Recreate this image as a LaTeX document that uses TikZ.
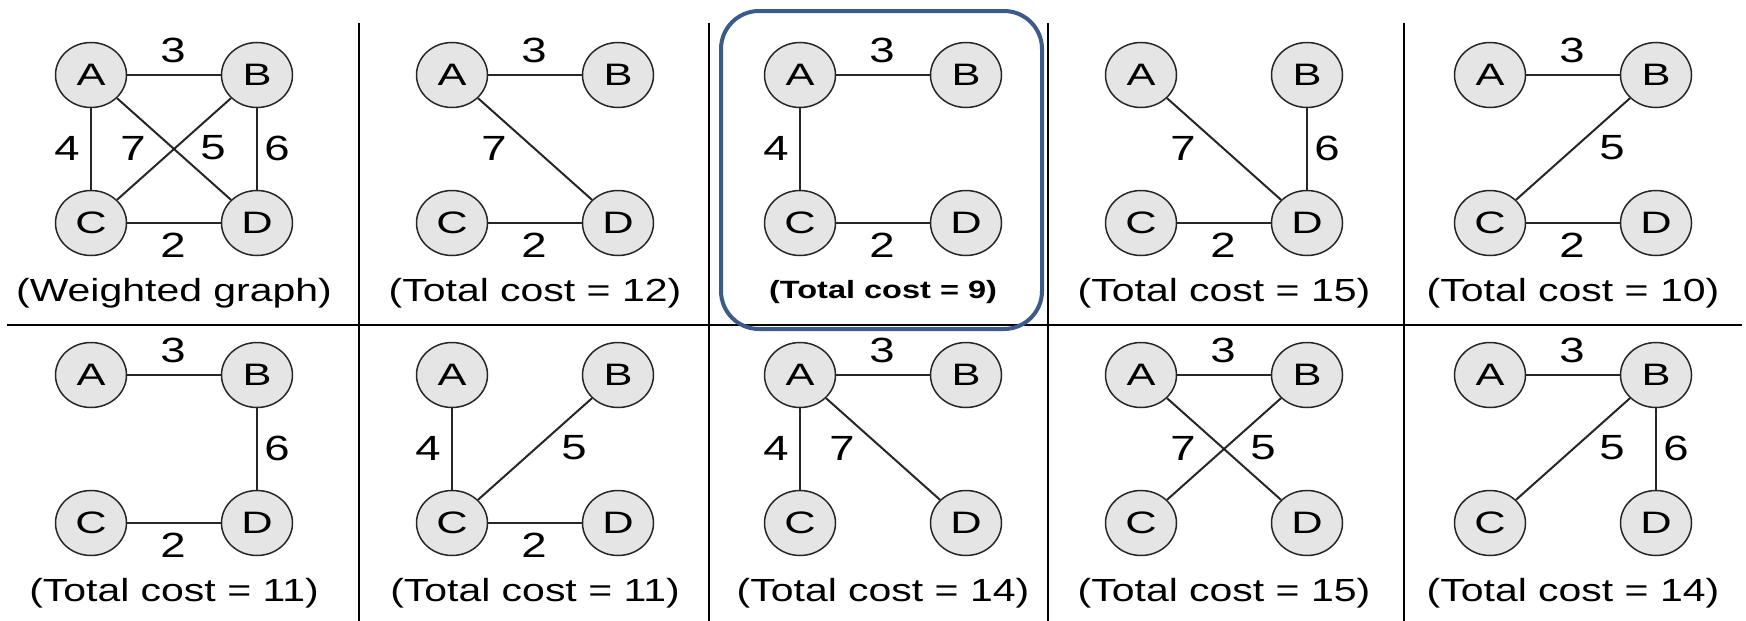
\documentclass[tikz,border=0pt]{standalone}
\usepackage{fontspec}
\setmainfont{Liberation Sans}
\usetikzlibrary{shapes.geometric}
\newcommand{\hs}[2]{\scalebox{#1}[1]{#2}}
\newcommand{\panel}[3]{%
  \node[vtx] (#1A) at (#2,#3) {\hs{1.4}{A}};
  \node[vtx] (#1B) at (#2+166,#3) {\hs{1.4}{B}};
  \node[vtx] (#1C) at (#2,#3+148) {\hs{1.4}{C}};
  \node[vtx] (#1D) at (#2+166,#3+148) {\hs{1.4}{D}};
}
\newcommand{\wl}[4]{\node[wt] (#1w#4) at ([shift={(#2,#3)}]#1A.center) {\hs{1.3}{#4}};}
\newcommand{\capt}[2]{\node[capt] (#1cap) at ([shift={(83,218)}]#1A.center) {\hs{1.28}{#2}};}
\newcommand{\wAB}[1]{\draw[edge] (#1A) -- (#1B); \wl{#1}{82}{-25}{3}}
\newcommand{\wAC}[1]{\draw[edge] (#1A) -- (#1C); \wl{#1}{-24}{73}{4}}
\newcommand{\wAD}[1]{\draw[edge] (#1A) -- (#1D); \wl{#1}{42}{73}{7}}
\newcommand{\wBC}[1]{\draw[edge] (#1B) -- (#1C); \wl{#1}{122}{73}{5}}
\newcommand{\wBD}[1]{\draw[edge] (#1B) -- (#1D); \wl{#1}{186}{73}{6}}
\newcommand{\wCD}[1]{\draw[edge] (#1C) -- (#1D); \wl{#1}{82}{170}{2}}
\definecolor{hlblue}{RGB}{59,91,138}
\begin{document}
\begin{tikzpicture}[x=1pt,y=-1pt,
  vtx/.style={ellipse,draw=black!85,line width=1.5pt,fill=gray!20,minimum width=71pt,minimum height=65pt,inner sep=0pt,font=\fontsize{31}{31}\selectfont},
  wt/.style={inner sep=0pt,font=\fontsize{35}{35}\selectfont},
  capt/.style={inner sep=0pt,font=\fontsize{32}{32}\selectfont},
  bcapt/.style={inner sep=0pt,font=\fontsize{25}{25}\selectfont\bfseries},
  edge/.style={draw=black!85,line width=2pt},
  divider/.style={draw=black,line width=2pt},
  highlight/.style={draw=hlblue,line width=4pt,rounded corners=38pt}]
\useasboundingbox (0,0) rectangle (1746,621);
% dividers
\coordinate (h1) at (7,325);
\coordinate (h2) at (1742,325);
\draw[divider] (h1) -- (h2);
\coordinate (v1t) at (359,23); \coordinate (v1b) at (359,621);
\coordinate (v2t) at (709,23); \coordinate (v2b) at (709,621);
\coordinate (v3t) at (1048,23); \coordinate (v3b) at (1048,621);
\coordinate (v4t) at (1404,23); \coordinate (v4b) at (1404,621);
\draw[divider] (v1t) -- (v1b);
\draw[divider] (v2t) -- (v2b);
\draw[divider] (v3t) -- (v3b);
\draw[divider] (v4t) -- (v4b);
% panels row 1
\panel{p1}{91}{75}
\wAB{p1}\wAC{p1}\wAD{p1}\wBC{p1}\wBD{p1}\wCD{p1}
\capt{p1}{(Weighted graph)}
\panel{p2}{452}{75}
\wAB{p2}\wAD{p2}\wCD{p2}
\capt{p2}{(Total cost = 12)}
\panel{p3}{800}{75}
\wAB{p3}\wAC{p3}\wCD{p3}
\node[bcapt] (p3cap) at ([shift={(83,217)}]p3A.center) {\hs{1.3}{(Total cost = 9)}};
\panel{p4}{1141}{75}
\wAD{p4}\wBD{p4}\wCD{p4}
\capt{p4}{(Total cost = 15)}
\panel{p5}{1490}{75}
\wAB{p5}\wBC{p5}\wCD{p5}
\capt{p5}{(Total cost = 10)}
% panels row 2
\panel{p6}{91}{375}
\wAB{p6}\wBD{p6}\wCD{p6}
\capt{p6}{(Total cost = 11)}
\panel{p7}{452}{375}
\wAC{p7}\wBC{p7}\wCD{p7}
\capt{p7}{(Total cost = 11)}
\panel{p8}{800}{375}
\wAB{p8}\wAC{p8}\wAD{p8}
\capt{p8}{(Total cost = 14)}
\panel{p9}{1141}{375}
\wAB{p9}\wAD{p9}\wBC{p9}
\capt{p9}{(Total cost = 15)}
\panel{p10}{1490}{375}
\wAB{p10}\wBC{p10}\wBD{p10}
\capt{p10}{(Total cost = 14)}
% highlight
\node[highlight,minimum width=321pt,minimum height=318pt,inner sep=0pt] (hl) at (881.5,170) {};
\end{tikzpicture}
\end{document}
